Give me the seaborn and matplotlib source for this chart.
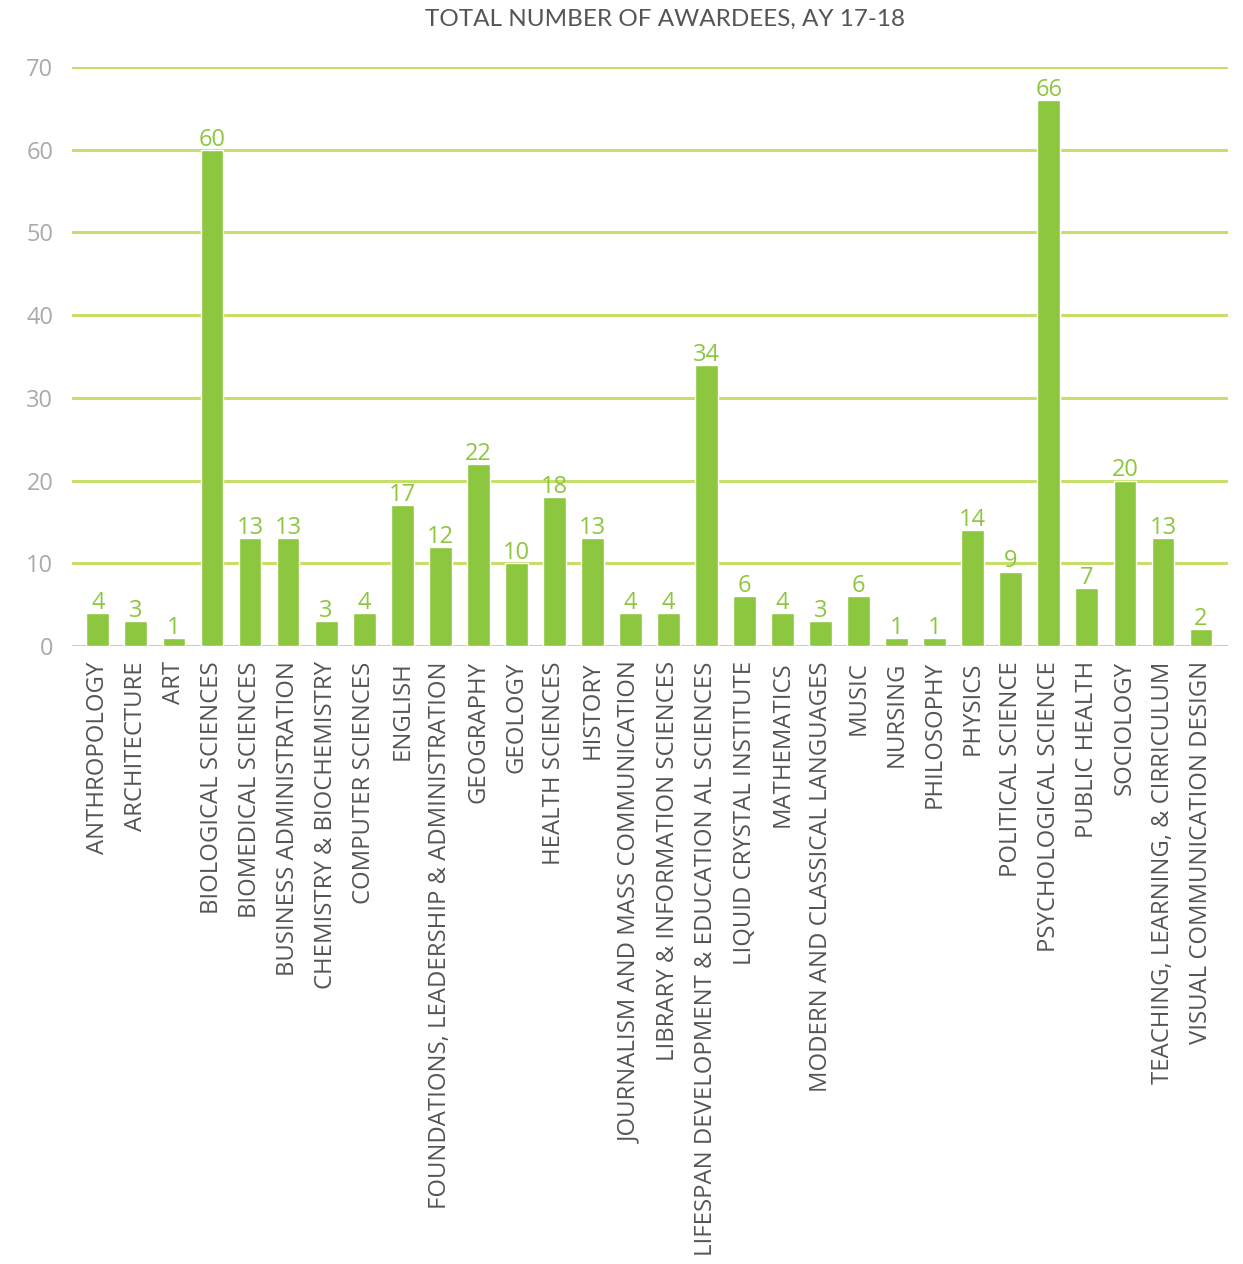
import matplotlib
matplotlib.use("Agg")
import matplotlib.pyplot as plt
import seaborn as sns
import pandas as pd

categories = [
    "ANTHROPOLOGY", "ARCHITECTURE", "ART", "BIOLOGICAL SCIENCES", "BIOMEDICAL SCIENCES",
    "BUSINESS ADMINISTRATION", "CHEMISTRY & BIOCHEMISTRY", "COMPUTER SCIENCES", "ENGLISH",
    "FOUNDATIONS, LEADERSHIP & ADMINISTRATION", "GEOGRAPHY", "GEOLOGY", "HEALTH SCIENCES",
    "HISTORY", "JOURNALISM AND MASS COMMUNICATION", "LIBRARY & INFORMATION SCIENCES",
    "LIFESPAN DEVELOPMENT & EDUCATION AL SCIENCES", "LIQUID CRYSTAL INSTITUTE", "MATHEMATICS",
    "MODERN AND CLASSICAL LANGUAGES", "MUSIC", "NURSING", "PHILOSOPHY", "PHYSICS",
    "POLITICAL SCIENCE", "PSYCHOLOGICAL SCIENCE", "PUBLIC HEALTH", "SOCIOLOGY",
    "TEACHING, LEARNING, & CIRRICULUM", "VISUAL COMMUNICATION DESIGN",
]
values = [4, 3, 1, 60, 13, 13, 3, 4, 17, 12, 22, 10, 18, 13, 4, 4, 34, 6, 4, 3, 6, 1, 1,
          14, 9, 66, 7, 20, 13, 2]
yticks = [0, 10, 20, 30, 40, 50, 60, 70]
title = "TOTAL NUMBER OF AWARDEES, AY 17-18"

sns.set_theme(style="white")
plt.rcParams['font.family'] = ['Open Sans', 'DejaVu Sans']

BAR = "#8dc63f"
GRID = "#c6df6b"

df = pd.DataFrame({"cat": categories, "val": values})
fig = plt.figure(figsize=(12.43, 12.64), dpi=100)
ax = fig.add_axes([72/1243, 1-646/1264, (1228-72)/1243, (646-67)/1264])
sns.barplot(data=df, x="cat", y="val", color=BAR, width=0.6, saturation=1, ax=ax, zorder=3)
n = len(categories)
ax.set_xlim(-0.68, n - 1 + 0.71)
ax.set_ylim(0, 70)
ax.set_yticks(yticks)
ax.set_yticklabels([str(t) for t in yticks], fontsize=17, color="#aaaaaa")
for t in yticks:
    ax.axhline(t, color=GRID, lw=2.2, zorder=1)
ax.set_xticks(range(n))
ax.set_xticklabels(categories, rotation=90, fontsize=17.2, color="#555555", va="top", ha="center")
ax.tick_params(axis="x", pad=11, length=0)
ax.tick_params(axis="y", pad=13.5, length=0)
for s in ax.spines.values():
    s.set_visible(False)
ax.set_xlabel("")
ax.set_ylabel("")
for i, v in enumerate(values):
    ax.text(i, v + 0.5, str(v), ha="center", va="baseline", fontsize=17, color=BAR, zorder=4)
fig.text(665/1243, 1-19/1264, title, ha="center", va="center", fontsize=17.5, color="#555555",
         family=["Lato", "DejaVu Sans"])
fig.savefig("out.png", dpi=100, facecolor="white")
